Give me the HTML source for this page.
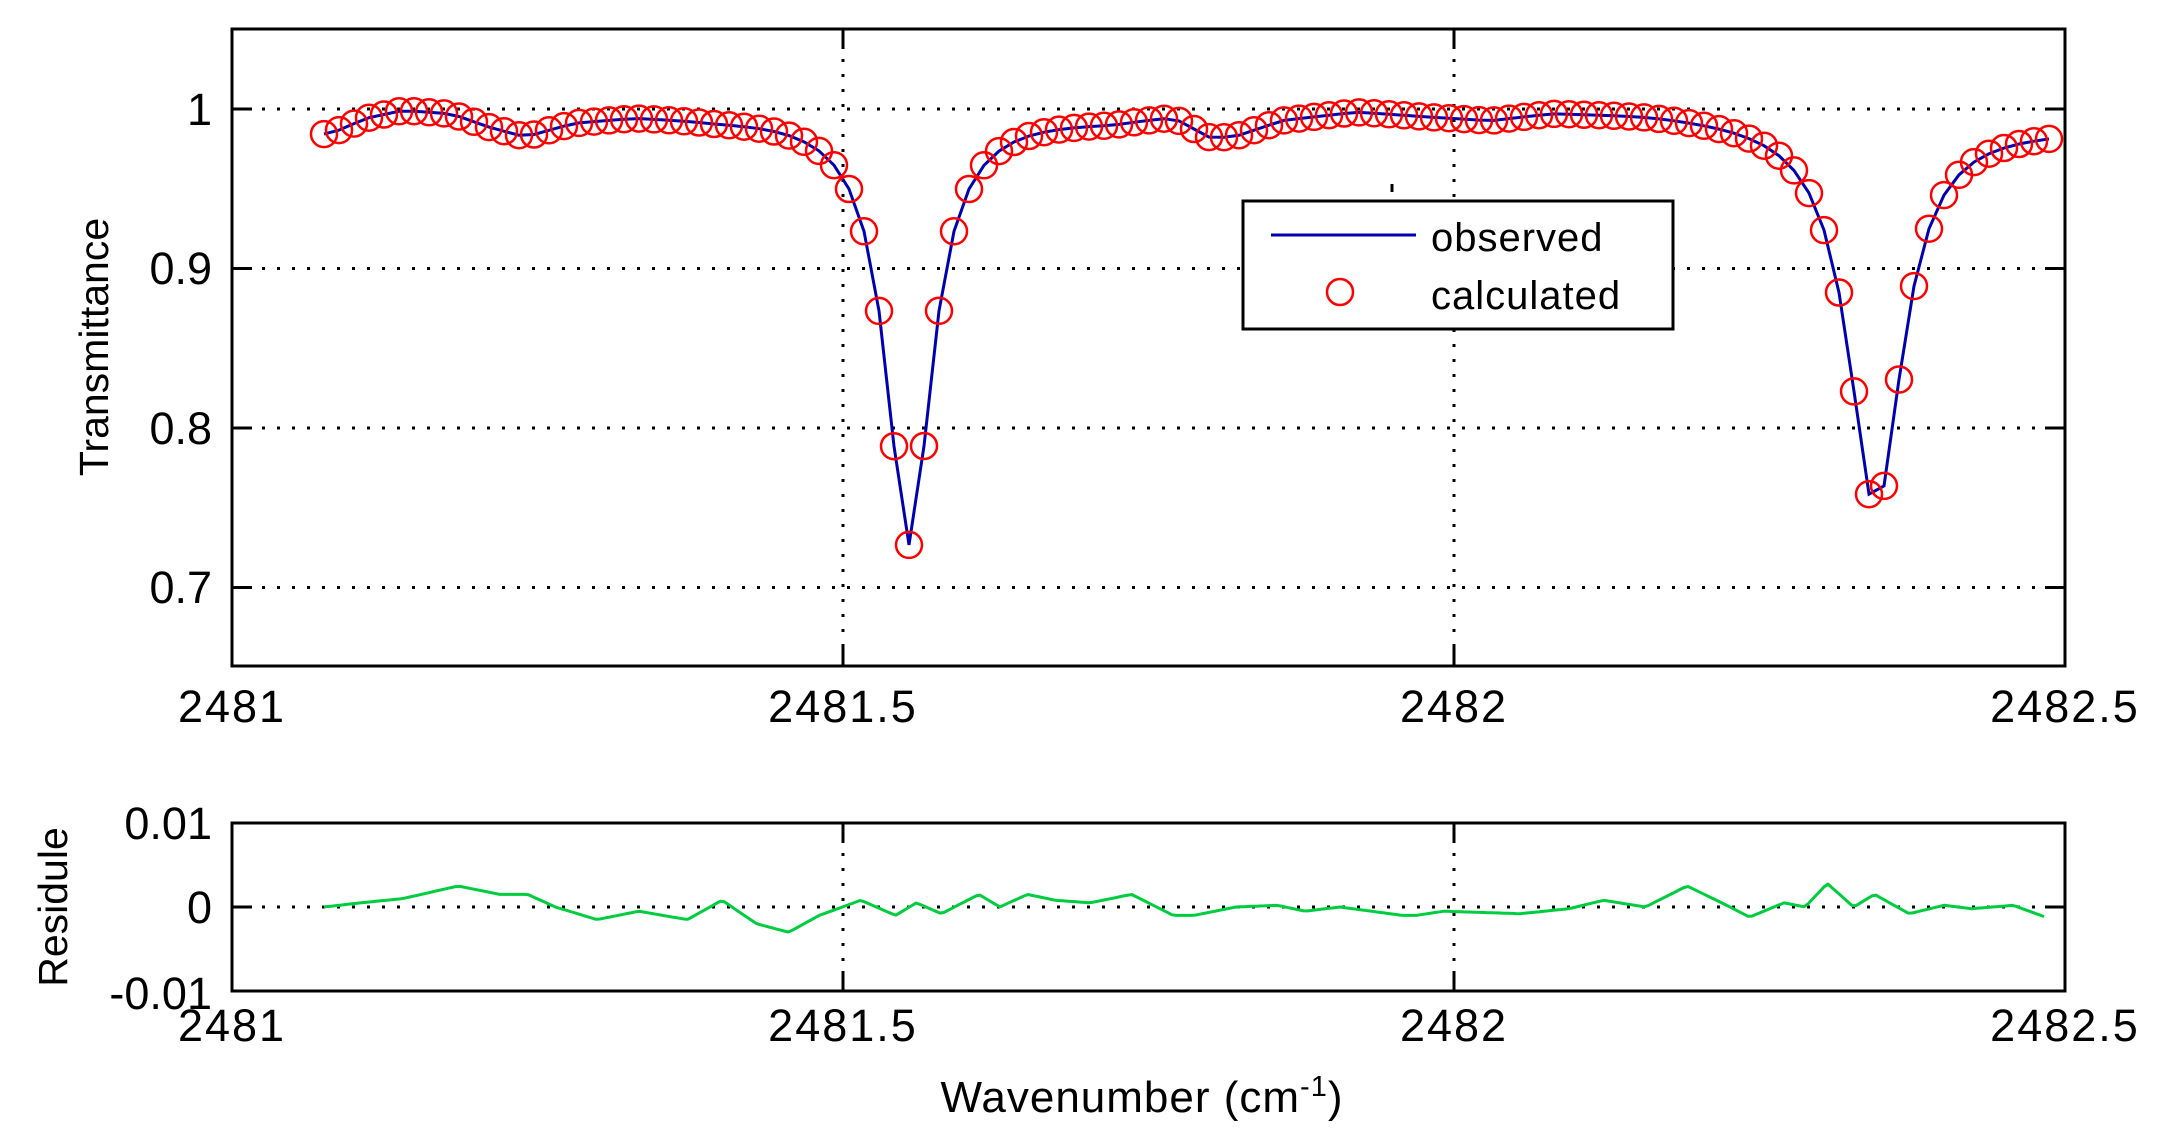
<!DOCTYPE html>
<html><head><meta charset="utf-8"><style>
html,body{margin:0;padding:0;background:#fff;}
svg{display:block;}
text{font-family:"Liberation Sans",Arial,sans-serif;fill:#000;}
</style></head><body>
<svg id="s" width="2166" height="1146" viewBox="0 0 2166 1146" xmlns="http://www.w3.org/2000/svg">
<rect width="2166" height="1146" fill="#fff"/>
<g id="grid" stroke="#000" stroke-width="3" stroke-dasharray="3 12" fill="none">
<line x1="232" y1="109" x2="2065" y2="109"/>
<line x1="232" y1="268.5" x2="2065" y2="268.5"/>
<line x1="232" y1="428" x2="2065" y2="428"/>
<line x1="232" y1="587.5" x2="2065" y2="587.5"/>
<line x1="843" y1="29" x2="843" y2="666"/>
<line x1="1454" y1="29" x2="1454" y2="666"/>
<line x1="232" y1="907" x2="2065" y2="907"/>
<line x1="843" y1="823" x2="843" y2="991"/>
<line x1="1454" y1="823" x2="1454" y2="991"/>
</g>
<g id="plot"></g>
<g stroke="#000" stroke-width="3" fill="none">
<rect x="232" y="29" width="1833" height="637"/>
<rect x="232" y="823" width="1833" height="168"/>
<line x1="232" y1="109" x2="252" y2="109"/><line x1="2045" y1="109" x2="2065" y2="109"/>
<line x1="232" y1="268.5" x2="252" y2="268.5"/><line x1="2045" y1="268.5" x2="2065" y2="268.5"/>
<line x1="232" y1="428" x2="252" y2="428"/><line x1="2045" y1="428" x2="2065" y2="428"/>
<line x1="232" y1="587.5" x2="252" y2="587.5"/><line x1="2045" y1="587.5" x2="2065" y2="587.5"/>
<line x1="843" y1="29" x2="843" y2="49"/><line x1="843" y1="646" x2="843" y2="666"/>
<line x1="1454" y1="29" x2="1454" y2="49"/><line x1="1454" y1="646" x2="1454" y2="666"/>
<line x1="843" y1="823" x2="843" y2="843"/><line x1="843" y1="971" x2="843" y2="991"/>
<line x1="1454" y1="823" x2="1454" y2="843"/><line x1="1454" y1="971" x2="1454" y2="991"/>
<line x1="232" y1="907" x2="252" y2="907"/><line x1="2045" y1="907" x2="2065" y2="907"/>
<line x1="1392" y1="184" x2="1392" y2="192"/>
</g>
<g font-size="45" text-anchor="end">
<text x="212" y="125">1</text>
<text x="212" y="284">0.9</text>
<text x="212" y="444">0.8</text>
<text x="212" y="603">0.7</text>
<text x="212" y="839">0.01</text>
<text x="212" y="923">0</text>
<text x="212" y="1009">-0.01</text>
</g>
<g font-size="45" text-anchor="middle" letter-spacing="2">
<text x="232" y="722">2481</text>
<text x="843" y="722">2481.5</text>
<text x="1454" y="722">2482</text>
<text x="2065" y="722">2482.5</text>
<text x="232" y="1041">2481</text>
<text x="843" y="1041">2481.5</text>
<text x="1454" y="1041">2482</text>
<text x="2065" y="1041">2482.5</text>
</g>
<text font-size="41" text-anchor="middle" transform="translate(108,347) rotate(-90)">Transmittance</text>
<text font-size="41" text-anchor="middle" transform="translate(67,907) rotate(-90)">Residule</text>
<text font-size="44" x="1142" y="1112" text-anchor="middle" letter-spacing="1">Wavenumber (cm<tspan dy="-16" font-size="29">-1</tspan><tspan dy="16">)</tspan></text>
<g>
<rect x="1243" y="201" width="430" height="128" fill="#fff" stroke="#000" stroke-width="3"/>
<line x1="1271" y1="235" x2="1416" y2="235" stroke="#0000b0" stroke-width="3"/>
<circle cx="1340" cy="292" r="13" fill="none" stroke="#f00" stroke-width="2.5"/>
<text x="1431" y="251" font-size="40" letter-spacing="1">observed</text>
<text x="1431" y="309" font-size="40" letter-spacing="1">calculated</text>
</g>
</svg>
<script>
(function(){
var g=document.getElementById("plot");
function interp(pts,x){if(x<=pts[0][0])return pts[0][1];for(var i=1;i<pts.length;i++){if(x<=pts[i][0]){var a=pts[i-1],b=pts[i];return a[1]+(b[1]-a[1])*(x-a[0])/(b[0]-a[0]);}}return pts[pts.length-1][1];}
var base=[[2481.08,0.985],[2481.11,0.995],[2481.14,1.0],[2481.18,0.998],[2481.21,0.99],[2481.24,0.984],[2481.28,0.993],[2481.33,0.997],[2481.4,0.996],[2481.45,0.997],[2481.65,0.997],[2481.72,0.995],[2481.77,0.998],[2481.8,0.985],[2481.82,0.985],[2481.86,0.995],[2481.92,1.0],[2481.98,0.997],[2482.03,0.995],[2482.08,1.0],[2482.16,1.0],[2482.22,0.998],[2482.48,0.99]];
function T(w){var b=interp(base,w);var d1=(w-2481.554)/0.0225,d2=(w-2482.345)/0.027;return b-0.27/(1+d1*d1)-0.245/(1+d2*d2);}
var res=[[233,0],[260,0.0005],[290,0.001],[330,0.0025],[360,0.0015],[380,0.0015],[400,0],[430,-0.0015],[460,-0.0005],[495,-0.0015],[520,0.0008],[545,-0.002],[568,-0.003],[590,-0.001],[620,0.0008],[645,-0.001],[660,0.0005],[678,-0.0008],[705,0.0015],[720,0],[740,0.0015],[760,0.0008],[785,0.0005],[815,0.0015],[845,-0.001],[860,-0.001],[890,0],[920,0.0002],[940,-0.0005],[965,0],[1010,-0.001],[1020,-0.001],[1040,-0.0005],[1095,-0.0008],[1130,-0.0002],[1155,0.0008],[1185,0],[1215,0.0025],[1240,0.0005],[1260,-0.0012],[1285,0.0005],[1300,0],[1316,0.0028],[1335,0],[1350,0.0015],[1375,-0.0008],[1400,0.0002],[1420,-0.0002],[1450,0.0002],[1473,-0.0012]];
for(var i=0;i<res.length;i++)res[i][0]*=1.3885;
var line="",circ="",rl="";
for(var px=324;px<=2050;px+=15){var w=2481+(px-232)/1222;var py=109+(1-T(w))*1595;line+=(line?"L":"M")+px.toFixed(1)+","+py.toFixed(1);circ+='<circle cx="'+px+'" cy="'+py.toFixed(1)+'" r="13"/>';}
for(var x=324;x<=2046;x+=4){var r=interp(res,x);rl+=(rl?"L":"M")+x+","+(907-r*8400).toFixed(1);}
g.innerHTML='<path d="'+line+'" fill="none" stroke="#0000b0" stroke-width="3"/><g fill="none" stroke="#f00" stroke-width="2.5">'+circ+'</g><path d="'+rl+'" fill="none" stroke="#00cc40" stroke-width="3" stroke-linejoin="round"/>';
})();
</script>
</body></html>
